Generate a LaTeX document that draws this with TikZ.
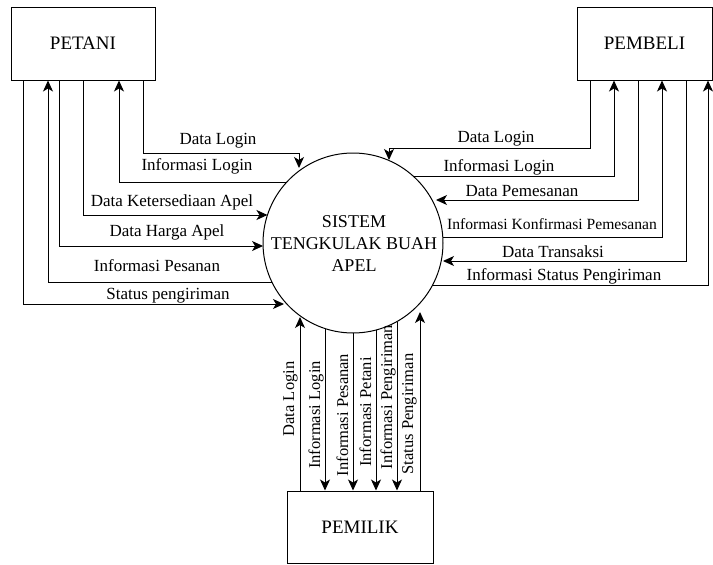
\documentclass[tikz,border=0pt]{standalone}
\usepackage{fontspec}
\setmainfont{Liberation Serif}
\usetikzlibrary{arrows.meta}
\newcommand\ptL[2]{\coordinate (#1) at ({353-sqrt(8100-((#2)-243)*((#2)-243))},#2);}
\newcommand\ptR[2]{\coordinate (#1) at ({353+sqrt(8100-((#2)-243)*((#2)-243))},#2);}
\newcommand\ptB[2]{\coordinate (#1) at (#2,{243+sqrt(8100-((#2)-353)*((#2)-353))});}
\begin{document}
\begin{tikzpicture}[x=1pt,y=-1pt,line width=1pt,
  box/.style={draw,rectangle,inner sep=0pt,font=\fontsize{19}{22}\selectfont},
  lbl/.style={inner sep=0pt,anchor=base,font=\fontsize{17}{20}\selectfont},
  vlbl/.style={inner sep=0pt,rotate=90,anchor=base,font=\fontsize{16.5}{20}\selectfont},
  arr/.style={-{Stealth[length=11pt,width=10pt,inset=3pt]}}]
\useasboundingbox (0,0) rectangle (713,565);
% nodes
\node[box,minimum width=144pt,minimum height=73pt] (petani) at (83,43.5) {PETANI};
\node[box,minimum width=135pt,minimum height=73pt] (pembeli) at (644.5,43.5) {PEMBELI};
\node[box,minimum width=146pt,minimum height=72pt] (pemilik) at (360,527) {PEMILIK};
\node[draw,circle,minimum size=180pt,inner sep=0pt] (sys) at (353,243) {};
\node[align=center,inner sep=0pt,font=\fontsize{18}{22}\selectfont] (systext) at (354,244) {SISTEM\\TENGKULAK BUAH\\APEL};
% circle points
\coordinate (p1) at (299,168);
\ptL{l2}{182}
\ptL{l3}{215}
\ptL{l4}{246}
\ptL{l5}{282}
\coordinate (l6) at (284,304);
\coordinate (r1) at (389,160);
\ptR{r2}{176}
\coordinate (r3) at (436,200);
\ptR{r4}{237}
\coordinate (r5) at (443,261);
\ptR{r6}{285}
\coordinate (b1) at (300,317);
\ptB{b2}{325}
\ptB{b3}{353}
\ptB{b4}{376}
\ptB{b5}{397}
\coordinate (b6) at (420,312);
% PETANI connectors
\draw[arr] (petani.south -| 143,0) |- (299,153) -- (p1);
\draw[arr] (l2) -| (petani.south -| 119,0);
\draw[arr] (petani.south -| 83,0) |- (l3);
\draw[arr] (petani.south -| 59,0) |- (l4);
\draw[arr] (l5) -| (petani.south -| 48,0);
\draw[arr] (petani.south -| 23,0) |- (l6);
% PEMBELI connectors
\draw[arr] (pembeli.south -| 590,0) |- (389,148) -- (r1);
\draw[arr] (r2) -| (pembeli.south -| 614,0);
\draw[arr] (pembeli.south -| 638,0) |- (r3);
\draw[arr] (r4) -| (pembeli.south -| 662,0);
\draw[arr] (pembeli.south -| 686,0) |- (r5);
\draw[arr] (r6) -| (pembeli.south -| 708,0);
% PEMILIK connectors
\draw[arr] (pemilik.north -| 300,0) -- (b1);
\draw[arr] (b2) -- (pemilik.north -| 325,0);
\draw[arr] (b3) -- (pemilik.north -| 353,0);
\draw[arr] (b4) -- (pemilik.north -| 376,0);
\draw[arr] (b5) -- (pemilik.north -| 397,0);
\draw[arr] (pemilik.north -| 420,0) -- (b6);
% labels left
\node[lbl] (tL1) at (218,144) {Data Login};
\node[lbl] (tL2) at (197,170) {Informasi Login};
\node[lbl] (tL3) at (172,206) {Data Ketersediaan Apel};
\node[lbl] (tL4) at (167,236) {Data Harga Apel};
\node[lbl] (tL5) at (157,271) {Informasi Pesanan};
\node[lbl] (tL6) at (168,299) {Status pengiriman};
% labels right
\node[lbl] (tR1) at (496,142) {Data Login};
\node[lbl] (tR2) at (499,171) {Informasi Login};
\node[lbl] (tR3) at (522,196) {Data Pemesanan};
\node[lbl,font=\fontsize{15.6}{18}\selectfont] (tR4) at (552,229) {Informasi Konfirmasi Pemesanan};
\node[lbl] (tR5) at (553,257) {Data Transaksi};
\node[lbl] (tR6) at (564,280) {Informasi Status Pengiriman};
% labels bottom
\node[vlbl] (tB1) at (294,399) {Data Login};
\node[vlbl] (tB2) at (320,415) {Informasi Login};
\node[vlbl] (tB3) at (348,415) {Informasi Pesanan};
\node[vlbl] (tB4) at (371,412) {Informasi Petani};
\node[vlbl] (tB5) at (392,397) {Informasi Pengiriman};
\node[vlbl] (tB6) at (413,414) {Status Pengiriman};
\end{tikzpicture}
\end{document}
